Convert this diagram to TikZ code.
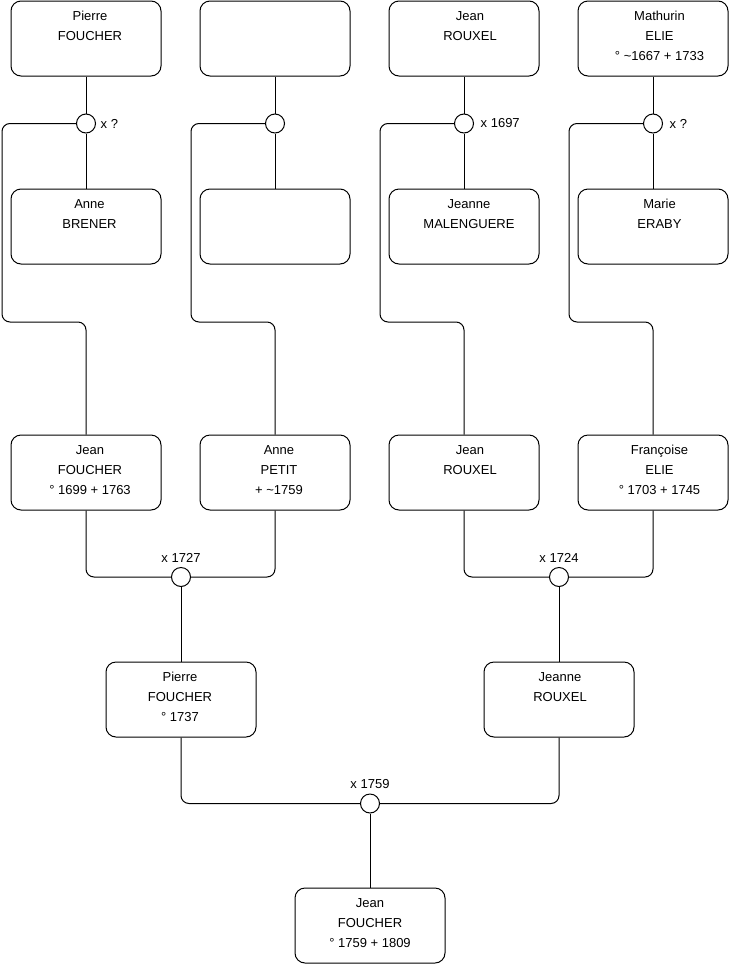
\documentclass[tikz,border=0pt]{standalone}
\usepackage{fontspec}
\setmainfont{Liberation Sans}
\usetikzlibrary{positioning}
\tikzset{
  person/.style={rectangle,draw=black,line width=1pt,rounded corners=10pt,inner sep=0pt,font=\fontsize{13pt}{20pt}\selectfont},
  wed/.style={circle,draw=black,fill=white,line width=1pt,minimum size=19pt,inner sep=0pt},
  wlab/.style={inner sep=0pt,font=\fontsize{13pt}{16pt}\selectfont},
  link/.style={line width=1pt,black,rounded corners=8pt},
}
% box text, top aligned; optional arg pushes the lines to the right
\newcommand{\who}[2][0pt]{\parbox[c][75pt][t]{150pt}{\centering\advance\leftskip by #1\rule{0pt}{19.5pt}#2}}

\begin{document}
\begin{tikzpicture}[x=1pt,y=-1pt]
  \useasboundingbox (0,0) rectangle (740,975);
  % great-grandparents
  \node[person](pfa) at (86,38.5){\who[8pt]{Pierre\\FOUCHER}};
  \node[person](unk) at (275,38.5){\who{}};
  \node[person](jra) at (464,38.5){\who[12pt]{Jean\\ROUXEL}};
  \node[person](mel) at (653,38.5){\who[13pt]{Mathurin\\ELIE\\° \textasciitilde1667 + 1733}};
  \node[person](abr) at (86,226.5){\who[7pt]{Anne\\BRENER}};
  \node[person](unw) at (275,226.5){\who{}};
  \node[person](jma) at (464,226.5){\who[10pt]{Jeanne\\MALENGUERE}};
  \node[person](mer) at (653,226.5){\who[13pt]{Marie\\ERABY}};
  \node[wed](w1) at (86,123.5){}; \node[wed](w2) at (275,123.5){};
  \node[wed](w3) at (464,123.5){}; \node[wed](w4) at (653,123.5){};
  \node[wlab,right=4.5pt of w1](l1){x ?};
  \node[wlab,right=6.5pt of w3](l3){x 1697};
  \node[wlab,right=6.5pt of w4](l4){x ?};
  % grandparents
  \node[person](jfo) at (86,472.5){\who[8pt]{Jean\\FOUCHER\\° 1699 + 1763}};
  \node[person](ape) at (275,472.5){\who[8pt]{Anne\\PETIT\\+ \textasciitilde1759}};
  \node[person](jro) at (464,472.5){\who[12pt]{Jean\\ROUXEL}};
  \node[person](fel) at (653,472.5){\who[13pt]{Françoise\\ELIE\\° 1703 + 1745}};
  \coordinate (k1) at (2,322); \coordinate (k2) at (191,322);
  \coordinate (k3) at (380,322); \coordinate (k4) at (569,322);
  \foreach \a/\w/\b/\k/\c in {pfa/w1/abr/k1/jfo,unk/w2/unw/k2/ape,jra/w3/jma/k3/jro,mel/w4/mer/k4/fel}
    {\draw[link] (\a.south)--(\w.north); \draw[link] (\w.south)--(\b.north);
     \draw[link] (\w.west) -| (\k) -| (\c.north);}
  % parents
  \node[wed](w5) at (181,577){}; \node[wed](w6) at (559,577){};
  \node[wlab,above=4.5pt of w5](l5){x 1727};
  \node[wlab,above=4.5pt of w6](l6){x 1724};
  \node[person](pfo) at (181,699.5){\who[-2pt]{Pierre\\FOUCHER\\° 1737}};
  \node[person](jrx) at (559,699.5){\who[2pt]{Jeanne\\ROUXEL}};
  \draw[link] (jfo.south) |- (w5.west); \draw[link] (ape.south) |- (w5.east);
  \draw[link] (jro.south) |- (w6.west); \draw[link] (fel.south) |- (w6.east);
  \draw[link] (w5.south)--(pfo.north); \draw[link] (w6.south)--(jrx.north);
  % child
  \node[wed](w7) at (370,803.5){};
  \node[wlab,above=4.5pt of w7](l7){x 1759};
  \node[person](jfc) at (370,925.5){\who{Jean\\FOUCHER\\° 1759 + 1809}};
  \draw[link] (pfo.south) |- (w7.west); \draw[link] (jrx.south) |- (w7.east);
  \draw[link] (w7.south)--(jfc.north);
\end{tikzpicture}
\end{document}
